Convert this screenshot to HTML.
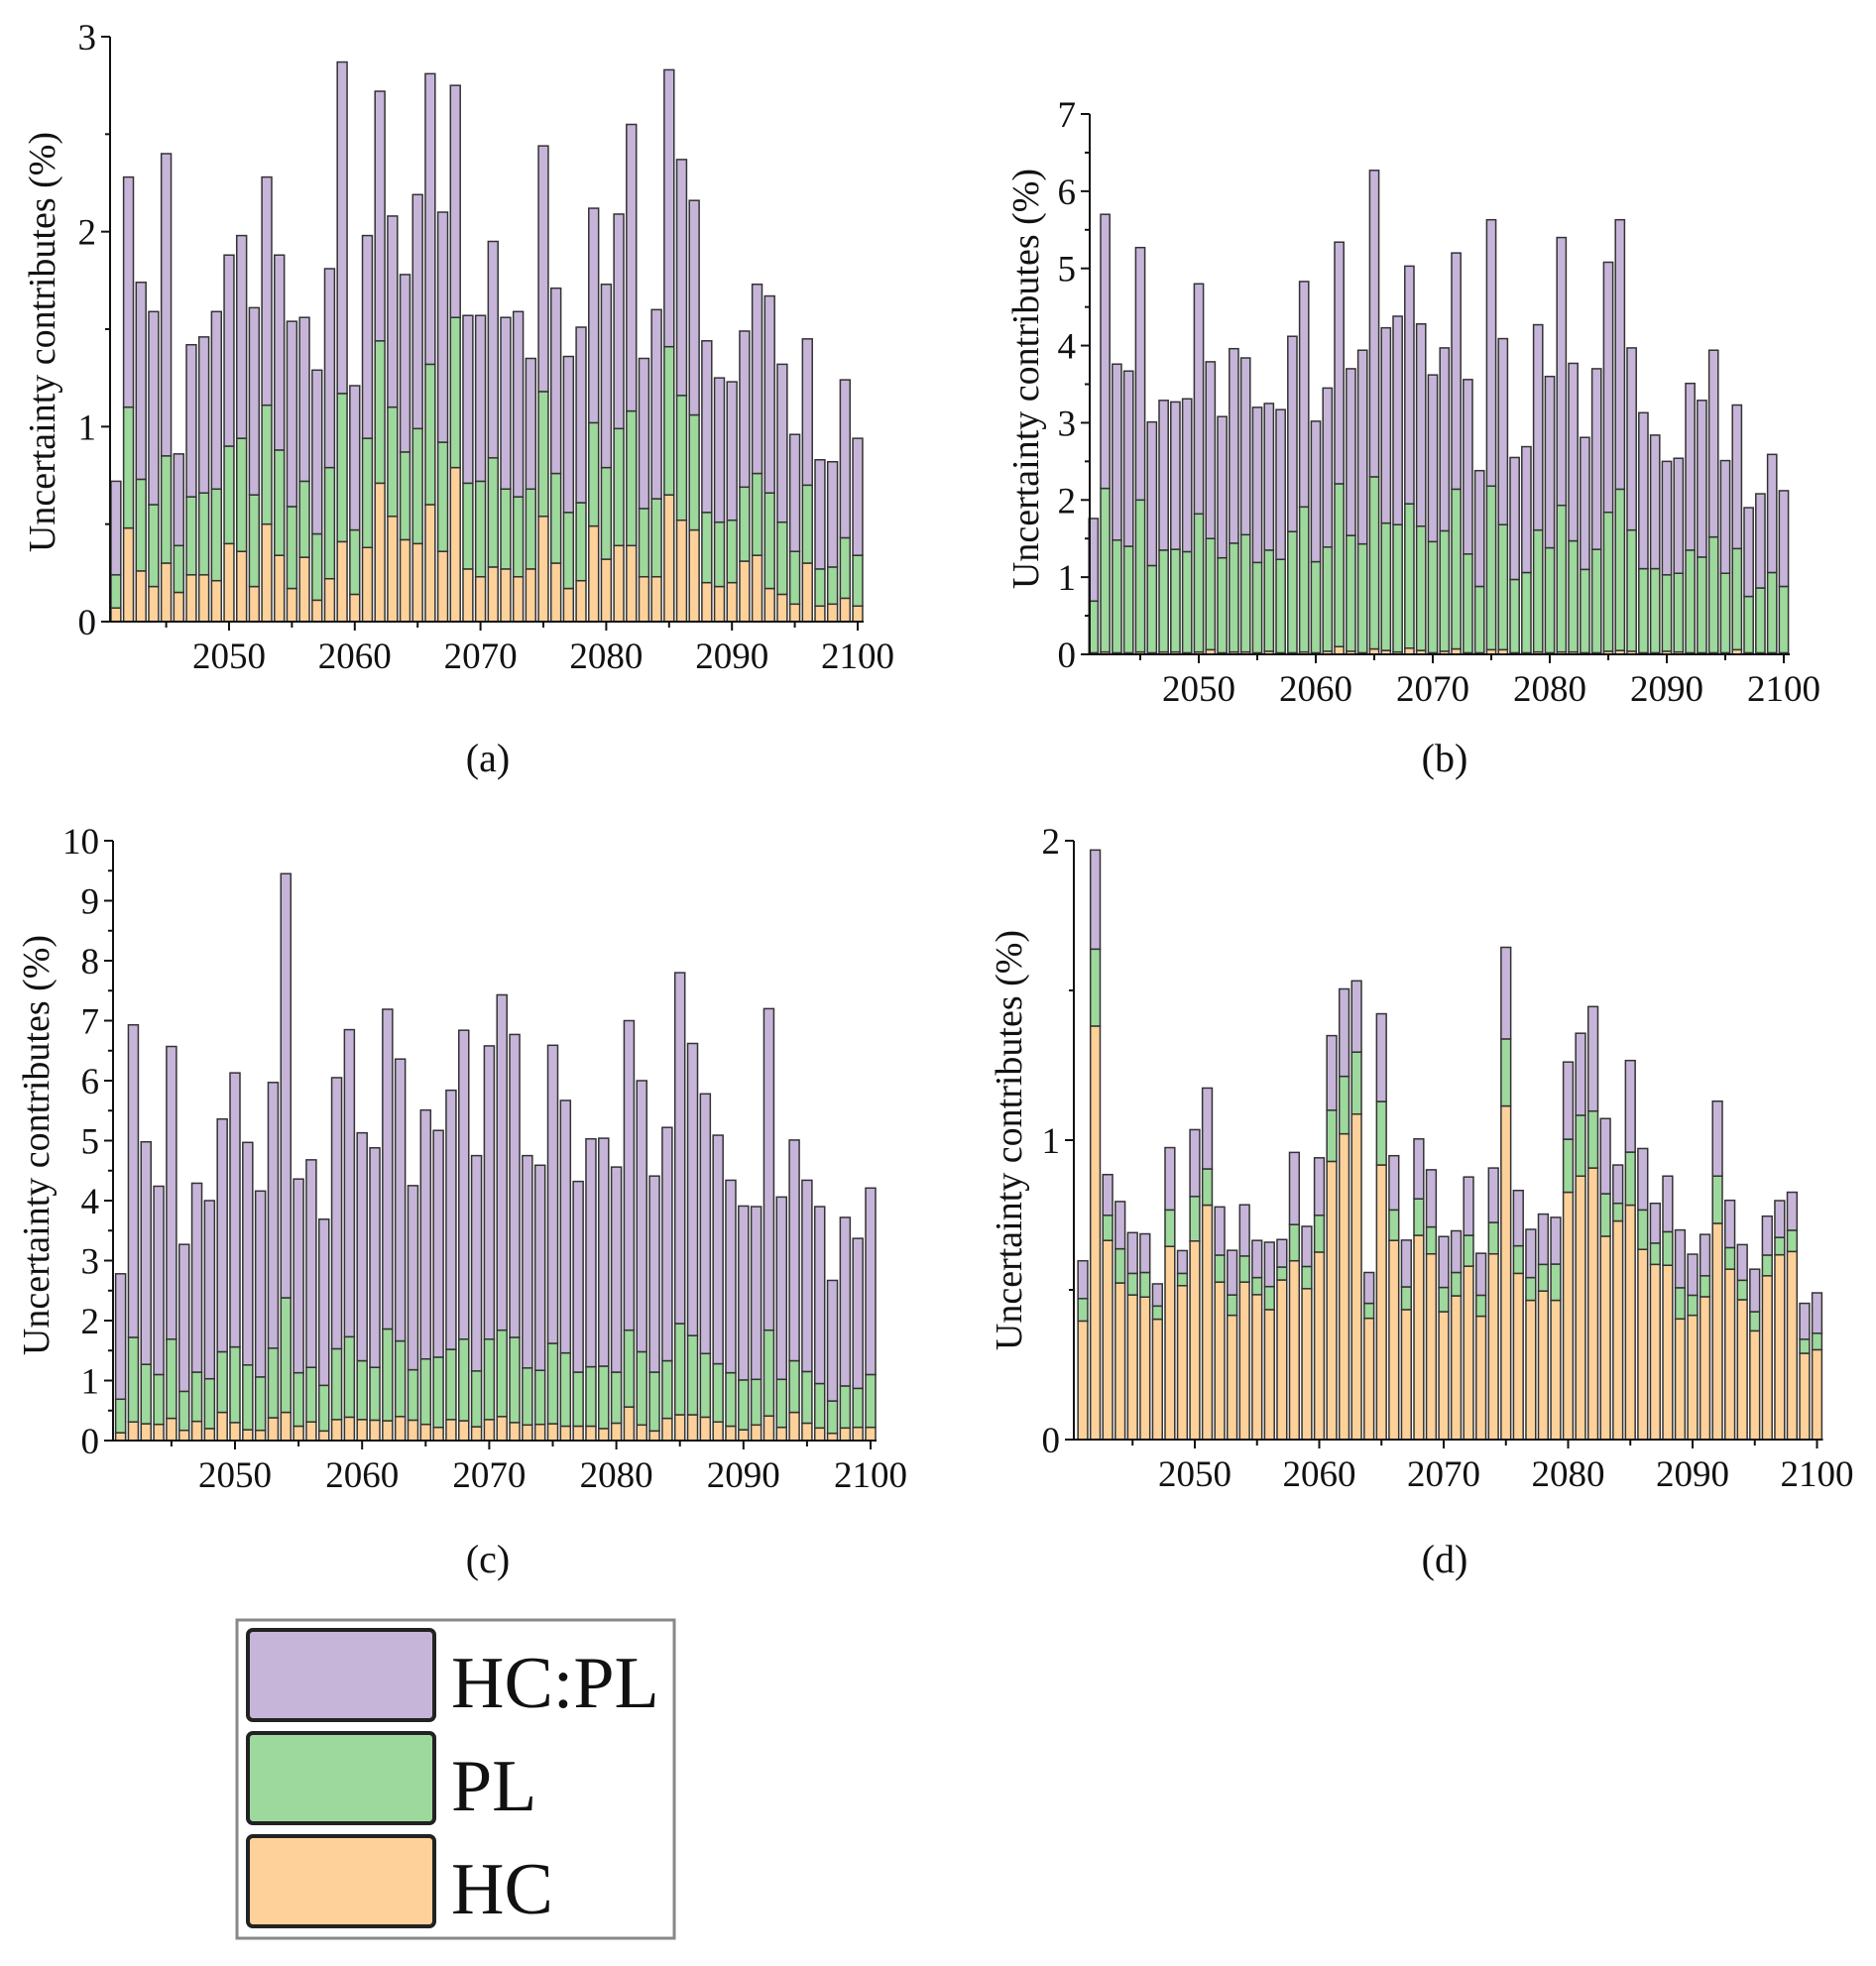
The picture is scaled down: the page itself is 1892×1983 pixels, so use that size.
<!DOCTYPE html>
<html><head><meta charset="utf-8"><style>
html,body{margin:0;padding:0;background:#fff;}
svg{display:block;}
text{font-family:"Liberation Serif",serif;fill:#111;}
</style></head><body>
<svg id="fig" width="1892" height="1983" viewBox="0 0 1892 1983" xmlns="http://www.w3.org/2000/svg">
<g id="legend">
<rect x="239" y="1634" width="441" height="321" fill="#fff" stroke="#888" stroke-width="3"/>
<rect x="250" y="1644" width="188" height="91" rx="5" fill="#c6b5d9" stroke="#222" stroke-width="4"/>
<text x="455" y="1722" font-size="74">HC:PL</text>
<rect x="250" y="1748" width="188" height="91" rx="5" fill="#9dd89c" stroke="#222" stroke-width="4"/>
<text x="455" y="1826" font-size="74">PL</text>
<rect x="250" y="1852" width="188" height="91" rx="5" fill="#fdd199" stroke="#222" stroke-width="4"/>
<text x="455" y="1930" font-size="74">HC</text>
</g>
</svg>
<script>
const years = []; for (let y = 2041; y <= 2100; y++) years.push(y);
const xTickLabels = [2050, 2060, 2070, 2080, 2090, 2100];

// Panel (a): cumulative tops
const aHC = [0.07,0.48,0.26,0.18,0.30,0.15,0.24,0.24,0.21,0.40,0.36,0.18,0.50,0.34,0.17,0.33,0.11,0.22,0.41,0.14,0.38,0.71,0.54,0.42,0.40,0.60,0.36,0.79,0.27,0.23,0.28,0.27,0.23,0.27,0.54,0.30,0.17,0.21,0.49,0.32,0.39,0.39,0.23,0.23,0.65,0.52,0.47,0.20,0.18,0.20,0.31,0.34,0.17,0.14,0.09,0.30,0.08,0.09,0.12,0.08];
const aPLTop = [0.24,1.10,0.73,0.60,0.85,0.39,0.64,0.66,0.68,0.90,0.94,0.65,1.11,0.88,0.59,0.72,0.45,0.79,1.17,0.47,0.94,1.44,1.10,0.87,0.99,1.32,0.92,1.56,0.71,0.72,0.84,0.68,0.64,0.68,1.18,0.76,0.56,0.61,1.02,0.79,0.99,1.08,0.58,0.63,1.41,1.16,1.06,0.56,0.51,0.52,0.69,0.76,0.66,0.51,0.36,0.70,0.27,0.28,0.43,0.34];
const aTotal = [0.72,2.28,1.74,1.59,2.40,0.86,1.42,1.46,1.59,1.88,1.98,1.61,2.28,1.88,1.54,1.56,1.29,1.81,2.87,1.21,1.98,2.72,2.08,1.78,2.19,2.81,2.10,2.75,1.57,1.57,1.95,1.56,1.59,1.35,2.44,1.71,1.36,1.51,2.12,1.73,2.09,2.55,1.35,1.60,2.83,2.37,2.16,1.44,1.25,1.23,1.49,1.73,1.67,1.32,0.96,1.45,0.83,0.82,1.24,0.94];

// Panel (b)
const bHC = [0.02,0.03,0.02,0.02,0.03,0.02,0.03,0.03,0.02,0.03,0.06,0.02,0.03,0.03,0.02,0.04,0.02,0.02,0.03,0.02,0.04,0.10,0.04,0.02,0.07,0.05,0.03,0.08,0.05,0.02,0.04,0.07,0.02,0.02,0.06,0.06,0.02,0.02,0.03,0.02,0.03,0.03,0.02,0.02,0.04,0.05,0.04,0.02,0.02,0.04,0.03,0.02,0.02,0.02,0.02,0.06,0.02,0.02,0.02,0.02];
const bPLTop = [0.69,2.15,1.48,1.40,2.00,1.15,1.35,1.36,1.33,1.82,1.50,1.25,1.44,1.55,1.19,1.35,1.23,1.59,1.91,1.20,1.39,2.21,1.54,1.43,2.30,1.70,1.68,1.95,1.66,1.46,1.60,2.14,1.30,0.88,2.18,1.68,0.97,1.06,1.61,1.38,1.93,1.47,1.10,1.36,1.84,2.14,1.61,1.11,1.11,1.03,1.05,1.35,1.26,1.52,1.05,1.37,0.75,0.86,1.06,0.88];
const bTotal = [1.76,5.70,3.76,3.67,5.27,3.01,3.29,3.27,3.31,4.80,3.79,3.08,3.96,3.84,3.20,3.25,3.17,4.12,4.83,3.02,3.45,5.34,3.70,3.94,6.27,4.23,4.38,5.03,4.28,3.62,3.97,5.20,3.56,2.38,5.63,4.09,2.55,2.69,4.27,3.60,5.40,3.77,2.81,3.70,5.08,5.63,3.97,3.13,2.84,2.50,2.54,3.51,3.29,3.94,2.51,3.23,1.90,2.08,2.59,2.12];

// Panel (c)
const cHC = [0.13,0.31,0.28,0.27,0.37,0.17,0.32,0.20,0.47,0.30,0.18,0.17,0.38,0.47,0.24,0.31,0.16,0.35,0.39,0.35,0.34,0.33,0.40,0.34,0.27,0.22,0.35,0.33,0.23,0.35,0.40,0.30,0.26,0.27,0.28,0.24,0.24,0.24,0.20,0.29,0.56,0.26,0.16,0.37,0.43,0.43,0.39,0.31,0.24,0.18,0.26,0.41,0.22,0.47,0.29,0.21,0.12,0.21,0.22,0.22];
const cPLTop = [0.69,1.72,1.27,1.10,1.69,0.82,1.14,1.03,1.48,1.56,1.26,1.06,1.54,2.38,1.13,1.22,0.92,1.53,1.73,1.33,1.22,1.86,1.66,1.18,1.36,1.39,1.52,1.69,1.16,1.69,1.84,1.72,1.21,1.17,1.62,1.46,1.14,1.23,1.24,1.14,1.84,1.48,1.14,1.33,1.95,1.75,1.45,1.28,1.13,1.01,1.02,1.84,1.02,1.33,1.15,0.95,0.66,0.91,0.87,1.10];
const cTotal = [2.78,6.93,4.98,4.24,6.57,3.27,4.29,4.00,5.36,6.13,4.97,4.16,5.97,9.45,4.36,4.68,3.69,6.05,6.85,5.13,4.88,7.19,6.36,4.25,5.51,5.17,5.84,6.84,4.75,6.58,7.43,6.77,4.75,4.59,6.59,5.67,4.32,5.03,5.04,4.56,7.00,6.00,4.41,5.22,7.80,6.62,5.78,5.09,4.34,3.91,3.90,7.20,4.06,5.01,4.34,3.90,2.67,3.72,3.37,4.21];

// Panel (d)
const dHC = [0.396,1.381,0.665,0.523,0.483,0.476,0.402,0.645,0.514,0.663,0.783,0.526,0.415,0.526,0.484,0.434,0.533,0.597,0.504,0.626,0.929,1.021,1.087,0.405,0.917,0.665,0.434,0.682,0.620,0.427,0.480,0.579,0.412,0.620,1.114,0.555,0.465,0.496,0.465,0.826,0.880,0.907,0.679,0.730,0.783,0.635,0.585,0.582,0.403,0.415,0.477,0.722,0.569,0.467,0.363,0.547,0.617,0.628,0.288,0.300];
const dPLTop = [0.471,1.638,0.749,0.637,0.555,0.558,0.446,0.767,0.555,0.812,0.904,0.616,0.483,0.613,0.541,0.511,0.576,0.718,0.578,0.749,1.100,1.213,1.294,0.455,1.129,0.767,0.510,0.804,0.710,0.508,0.558,0.682,0.482,0.725,1.338,0.647,0.541,0.585,0.586,1.003,1.083,1.097,0.821,0.789,0.960,0.767,0.656,0.694,0.507,0.482,0.547,0.880,0.641,0.532,0.427,0.616,0.675,0.699,0.335,0.355];
const dTotal = [0.597,1.969,0.885,0.795,0.691,0.687,0.520,0.975,0.631,1.035,1.174,0.777,0.632,0.784,0.665,0.659,0.668,0.959,0.712,0.941,1.349,1.505,1.532,0.558,1.422,0.948,0.666,1.004,0.901,0.678,0.697,0.877,0.622,0.907,1.644,0.832,0.702,0.753,0.742,1.261,1.357,1.446,1.072,0.917,1.266,0.972,0.789,0.880,0.700,0.619,0.685,1.130,0.799,0.651,0.569,0.746,0.798,0.826,0.455,0.490];

const aYTicks = [0,1,2,3];
const bYTicks = [0,1,2,3,4,5,6,7];
const cYTicks = [0,1,2,3,4,5,6,7,8,9,10];
const dYTicks = [0,1,2];

const NS = 'http://www.w3.org/2000/svg';
const svg = document.getElementById('fig');
function mk(tag, attrs, parent) {
  const e = document.createElementNS(NS, tag);
  for (const k in attrs) e.setAttribute(k, attrs[k]);
  parent.appendChild(e);
  return e;
}
const COL = {hc:'#fdd199', pl:'#9dd89c', hcpl:'#c6b5d9'};

function panel(id, g, hc, plTop, total, yTicks, letter) {
  const grp = mk('g', {}, svg);
  
  
  const yMax = yTicks[yTicks.length - 1];
  const ys = v => g.y0 - (g.y0 - g.yTop) * v / yMax;
  const xs = yr => g.x2050 + (yr - 2050) * g.step;
  const bw = g.step * 0.78;
  years.forEach((yr, i) => {
    const cx = xs(yr);
    const segs = [[0, hc[i], COL.hc, 'hc'], [hc[i], plTop[i], COL.pl, 'pl'], [plTop[i], total[i], COL.hcpl, 'hcpl']];
    segs.forEach(s => {
      const top = ys(s[1]), bot = ys(s[0]);
      const r = mk('rect', {x: cx - bw / 2, y: top, width: bw, height: Math.max(0, bot - top), fill: s[2], stroke: '#333', 'stroke-width': 1.5}, grp);
      
      
    });
  });
  const ax = mk('line', {x1: g.xAxis, y1: g.y0, x2: g.xAxis, y2: g.yTop, stroke: '#111', 'stroke-width': 2}, grp);
  
  
  const bx = mk('line', {x1: g.xAxis - 8, y1: g.y0, x2: xs(2100) + 6, y2: g.y0, stroke: '#111', 'stroke-width': 2}, grp);
  
  
  for (let v = 0; v <= yMax + 1e-9; v += 0.5) {
    const major = Math.abs(v - Math.round(v)) < 1e-9;
    mk('line', {x1: g.xAxis - (major ? 9 : 5), y1: ys(v), x2: g.xAxis, y2: ys(v), stroke: '#111', 'stroke-width': 2}, grp);
  }
  yTicks.forEach(v => {
    const t = mk('text', {x: g.xAxis - 14, y: ys(v) + 13, 'font-size': 37, 'text-anchor': 'end'}, grp);
    t.textContent = v;
    
    
  });
  for (let yr = 2045; yr <= 2100; yr += 5) {
    mk('line', {x1: xs(yr), y1: g.y0, x2: xs(yr), y2: g.y0 + (yr % 10 === 0 ? 9 : 6), stroke: '#111', 'stroke-width': 2}, grp);
  }
  xTickLabels.forEach(yr => {
    const t = mk('text', {x: xs(yr), y: g.y0 + 47, 'font-size': 37, 'text-anchor': 'middle'}, grp);
    t.textContent = yr;
    
    
  });
  const yt = mk('text', {x: 0, y: 0, 'font-size': 38, 'text-anchor': 'middle', transform: 'translate(' + g.titleX + ',' + g.titleY + ') rotate(-90)'}, grp);
  yt.textContent = 'Uncertainty contributes (%)';
  
  
  const lt = mk('text', {x: g.capX, y: g.capY, 'font-size': 40, 'text-anchor': 'middle'}, grp);
  lt.textContent = letter;
  
  
}

panel('a', {xAxis: 111, x2050: 231, step: 12.68, y0: 627, yTop: 37, titleX: 55, titleY: 345, capX: 492, capY: 778}, aHC, aPLTop, aTotal, aYTicks, '(a)');
panel('b', {xAxis: 1099, x2050: 1209, step: 11.8, y0: 660, yTop: 115, titleX: 1047, titleY: 382, capX: 1457, capY: 778}, bHC, bPLTop, bTotal, bYTicks, '(b)');
panel('c', {xAxis: 114, x2050: 237, step: 12.82, y0: 1453, yTop: 848, titleX: 49, titleY: 1155, capX: 492, capY: 1586}, cHC, cPLTop, cTotal, cYTicks, '(c)');
panel('d', {xAxis: 1083, x2050: 1205, step: 12.55, y0: 1452, yTop: 848, titleX: 1030, titleY: 1150, capX: 1457, capY: 1586}, dHC, dPLTop, dTotal, dYTicks, '(d)');
</script>
</body></html>
